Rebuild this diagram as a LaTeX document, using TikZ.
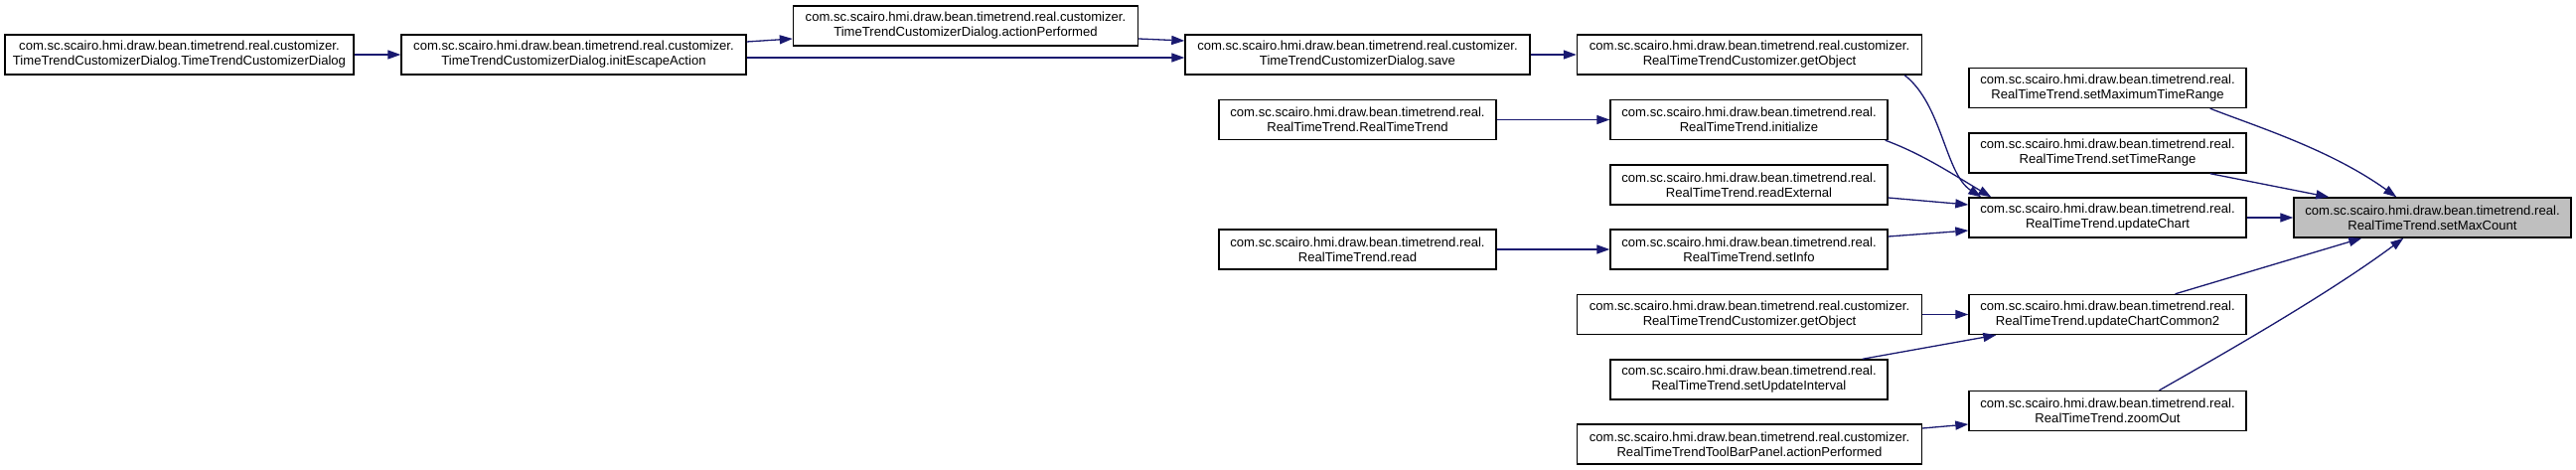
\documentclass[tikz,border=0pt]{standalone}
\usepackage{fontspec}
\setmainfont{Liberation Sans}
\usetikzlibrary{arrows.meta}
\definecolor{edgeblue}{HTML}{191970}
\definecolor{hilite}{HTML}{BFBFBF}
\begin{document}
\begin{tikzpicture}[x=1pt,y=-1pt,
  fn/.style={draw=black, line width=1.4pt, fill=white, minimum height=40pt, inner sep=0pt,
    align=center, font=\fontsize{13.1}{15}\selectfont},
  wide/.style={minimum width=347pt},
  narrow/.style={minimum width=279pt},
  cur/.style={fill=hilite},
  call/.style={draw=edgeblue, line width=1.3pt, -{Triangle[length=13pt,width=9pt]}}]
\useasboundingbox (0,0) rectangle (2593,473);
\fill[white] (0,0) rectangle (2593,473);
% nodes
\node[fn, minimum width=351pt] (n1) at (180.5,55) {com.sc.scairo.hmi.draw.bean.timetrend.real.customizer.\\TimeTrendCustomizerDialog.TimeTrendCustomizerDialog};
\node[fn, wide] (n2) at (577.5,55) {com.sc.scairo.hmi.draw.bean.timetrend.real.customizer.\\TimeTrendCustomizerDialog.initEscapeAction};
\node[fn, wide] (n3) at (972,26) {com.sc.scairo.hmi.draw.bean.timetrend.real.customizer.\\TimeTrendCustomizerDialog.actionPerformed};
\node[fn, wide] (n4) at (1366.5,55) {com.sc.scairo.hmi.draw.bean.timetrend.real.customizer.\\TimeTrendCustomizerDialog.save};
\node[fn, wide] (n5) at (1761,55) {com.sc.scairo.hmi.draw.bean.timetrend.real.customizer.\\RealTimeTrendCustomizer.getObject};
\node[fn, narrow] (n6) at (1366.5,120.5) {com.sc.scairo.hmi.draw.bean.timetrend.real.\\RealTimeTrend.RealTimeTrend};
\node[fn, narrow] (n7) at (1760.5,120.5) {com.sc.scairo.hmi.draw.bean.timetrend.real.\\RealTimeTrend.initialize};
\node[fn, narrow] (n8) at (1760.5,186) {com.sc.scairo.hmi.draw.bean.timetrend.real.\\RealTimeTrend.readExternal};
\node[fn, narrow] (n9) at (1366.5,251) {com.sc.scairo.hmi.draw.bean.timetrend.real.\\RealTimeTrend.read};
\node[fn, narrow] (n10) at (1760.5,251) {com.sc.scairo.hmi.draw.bean.timetrend.real.\\RealTimeTrend.setInfo};
\node[fn, wide] (n11) at (1761,316.5) {com.sc.scairo.hmi.draw.bean.timetrend.real.customizer.\\RealTimeTrendCustomizer.getObject};
\node[fn, narrow] (n12) at (1760.5,382) {com.sc.scairo.hmi.draw.bean.timetrend.real.\\RealTimeTrend.setUpdateInterval};
\node[fn, wide] (n13) at (1761,447) {com.sc.scairo.hmi.draw.bean.timetrend.real.customizer.\\RealTimeTrendToolBarPanel.actionPerformed};
\node[fn, narrow] (n14) at (2121.5,88.5) {com.sc.scairo.hmi.draw.bean.timetrend.real.\\RealTimeTrend.setMaximumTimeRange};
\node[fn, narrow] (n15) at (2121.5,154) {com.sc.scairo.hmi.draw.bean.timetrend.real.\\RealTimeTrend.setTimeRange};
\node[fn, narrow] (n16) at (2121.5,219) {com.sc.scairo.hmi.draw.bean.timetrend.real.\\RealTimeTrend.updateChart};
\node[fn, narrow] (n17) at (2121.5,316.5) {com.sc.scairo.hmi.draw.bean.timetrend.real.\\RealTimeTrend.updateChartCommon2};
\node[fn, narrow] (n18) at (2121.5,413.5) {com.sc.scairo.hmi.draw.bean.timetrend.real.\\RealTimeTrend.zoomOut};
\node[fn, narrow, cur] (n19) at (2448.5,219) {com.sc.scairo.hmi.draw.bean.timetrend.real.\\RealTimeTrend.setMaxCount};
% edges
\draw[call] (n1.east) -- (n2.west);
\draw[call] ([yshift=13pt]n2.east) -- ([yshift=-13pt]n3.west);
\draw[call] ([yshift=-3pt]n2.east) -- ([yshift=-3pt]n4.west);
\draw[call] ([yshift=-13pt]n3.east) -- ([yshift=14pt]n4.west);
\draw[call] (n4.east) -- (n5.west);
\draw[call] (n6.east) -- (n7.west);
\draw[call] (n9.east) -- (n10.west);
\draw[call] ([xshift=-18pt]n5.south east) .. controls (1955,105) and (1958,175) .. ([xshift=13pt]n16.north west);
\draw[call] ([xshift=-3pt]n7.south east) .. controls (1935,155) and (1965,175) .. ([xshift=23pt]n16.north west);
\draw[call] ([yshift=-13pt]n8.east) -- ([yshift=13pt]n16.west);
\draw[call] ([yshift=13pt]n10.east) -- ([yshift=-13pt]n16.west);
\draw[call] (n11.east) -- (n17.west);
\draw[call] ([xshift=-26pt]n12.north east) -- ([xshift=28pt]n17.south west);
\draw[call] ([yshift=16pt]n13.east) -- ([yshift=-13.5pt]n18.west);
\draw[call] ([xshift=-37pt]n14.south east) .. controls (2270,127) and (2345,150) .. ([xshift=104pt]n19.north west);
\draw[call] ([xshift=-37pt]n15.south east) -- ([xshift=36pt]n19.north west);
\draw[call] (n16.east) -- (n19.west);
\draw[call] ([xshift=68pt]n17.north) -- ([xshift=69pt]n19.south west);
\draw[call] ([xshift=52pt]n18.north) .. controls (2240,355) and (2345,295) .. ([xshift=111pt]n19.south west);
\end{tikzpicture}
\end{document}
